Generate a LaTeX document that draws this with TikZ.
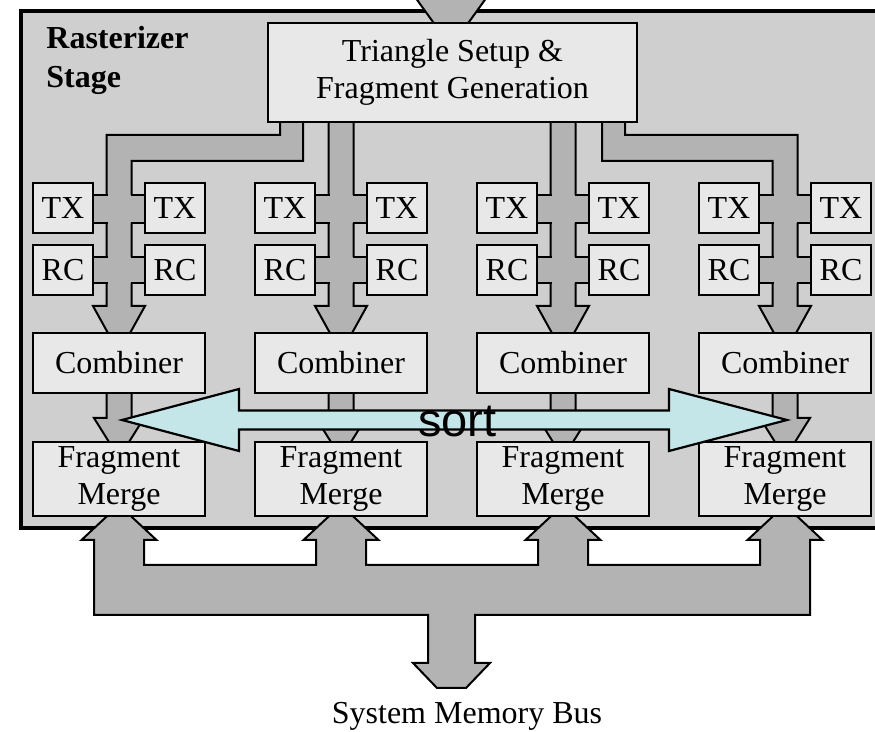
\documentclass[tikz,border=0pt]{standalone}
\usepackage{fontspec}
\setmainfont{Liberation Serif}
\newfontfamily\sortfont{Liberation Sans}

\definecolor{stagegray}{HTML}{CFCFCF}
\definecolor{boxgray}{HTML}{E8E8E8}
\definecolor{pipegray}{HTML}{B3B3B3}
\definecolor{sortcyan}{HTML}{C4E6E8}

\begin{document}
\begin{tikzpicture}[x=0.5pt, y=-0.5pt, line join=miter,
    unitbox/.style={draw, fill=boxgray, line width=1.2pt, inner sep=0pt,
      align=center, font=\fontsize{16}{18.5}\selectfont},
    pipe/.style={draw, fill=pipegray, line width=1pt}]
  \useasboundingbox (0,0) rectangle (875,732);
  % rasterizer stage frame (runs off the right edge)
  \draw[fill=stagegray, line width=1.6pt] (21,11) rectangle (910,528);
  \node[anchor=north west, align=left, inner sep=0pt,
    font=\bfseries\fontsize{16}{19.5}\selectfont] (stage) at (46,26) {Rasterizer\\Stage};
  % incoming triangles from above
  \draw[pipe] (410,-10) -- (451,47) -- (492,-10) -- cycle;
  % pipes from setup unit down to the four columns
  \draw[pipe] (280,118) -- (280,135) -- (106.5,135) -- (106.5,306) -- (93,306) -- (119,353)
    -- (145,306) -- (131.5,306) -- (131.5,161) -- (303,161) -- (303,118) -- cycle;
  \draw[pipe] (328.5,118) -- (328.5,306) -- (315,306) -- (341,353) -- (367,306)
    -- (353.5,306) -- (353.5,118) -- cycle;
  \draw[pipe] (550.5,118) -- (550.5,306) -- (537,306) -- (563,353) -- (589,306)
    -- (575.5,306) -- (575.5,118) -- cycle;
  \draw[pipe] (625,118) -- (625,135) -- (797.5,135) -- (797.5,306) -- (811,306) -- (785,353)
    -- (759,306) -- (772.5,306) -- (772.5,161) -- (602,161) -- (602,118) -- cycle;
  % side taps to TX and RC units
  \foreach \c in {119,341,563,785}
    \foreach \ya/\yb in {195/223, 257/283} {
      \fill[pipegray] (\c-26,\ya) rectangle (\c+26,\yb);
      \draw[line width=1pt] (\c-26,\ya) -- (\c-11.5,\ya) (\c+11.5,\ya) -- (\c+26,\ya)
        (\c-26,\yb) -- (\c-11.5,\yb) (\c+11.5,\yb) -- (\c+26,\yb);
    }
  % combiner to fragment merge
  \foreach \c in {119,341,563,785}
    \draw[pipe] (\c-12.5,388) -- (\c-12.5,418) -- (\c-25,418) -- (\c,458) -- (\c+25,418)
      -- (\c+12.5,418) -- (\c+12.5,388) -- cycle;
  % memory bus
  \draw[pipe] (94,615) -- (94,540) -- (81.5,540) -- (119,505) -- (156.5,540) -- (144,540) -- (144,565)
    -- (316,565) -- (316,540) -- (303.5,540) -- (341,505) -- (378.5,540) -- (366,540) -- (366,565)
    -- (538,565) -- (538,540) -- (525.5,540) -- (563,505) -- (600.5,540) -- (588,540) -- (588,565)
    -- (760,565) -- (760,540) -- (747.5,540) -- (785,505) -- (822.5,540) -- (810,540) -- (810,615)
    -- (475,615) -- (475,663) -- (490,663) -- (466,688) -- (437,688) -- (413,663) -- (428,663)
    -- (428,615) -- cycle;
  % units
  \node[unitbox, minimum width=184.5pt, minimum height=49.5pt] (setup) at (452.5,72.5)
    {Triangle Setup \&\\Fragment Generation};
  \foreach \c [count=\i] in {119,341,563,785} {
    \node[unitbox, minimum width=30pt, minimum height=25pt] (txa\i) at (\c-56,208) {TX};
    \node[unitbox, minimum width=30pt, minimum height=25pt] (txb\i) at (\c+56,208) {TX};
    \node[unitbox, minimum width=30pt, minimum height=25pt] (rca\i) at (\c-56,270) {RC};
    \node[unitbox, minimum width=30pt, minimum height=25pt] (rcb\i) at (\c+56,270) {RC};
    \node[unitbox, minimum width=86pt, minimum height=30pt] (comb\i) at (\c,363) {Combiner};
    \node[unitbox, minimum width=86pt, minimum height=37pt] (merge\i) at (\c,479) {Fragment\\Merge};
  }
  % sort exchange
  \draw[fill=sortcyan, line width=1.1pt] (122,420) -- (239,389) -- (239,410.5) -- (669,410.5)
    -- (669,389) -- (787,420) -- (669,451) -- (669,429.5) -- (239,429.5) -- (239,451) -- cycle;
  \node[anchor=base, inner sep=0pt, font=\sortfont\fontsize{23.5}{28}\selectfont] (sort)
    at (457.5,437) {sort};
  \node[anchor=base, inner sep=0pt, font=\fontsize{16}{19}\selectfont] (membus)
    at (467,724) {System Memory Bus};
\end{tikzpicture}
\end{document}
